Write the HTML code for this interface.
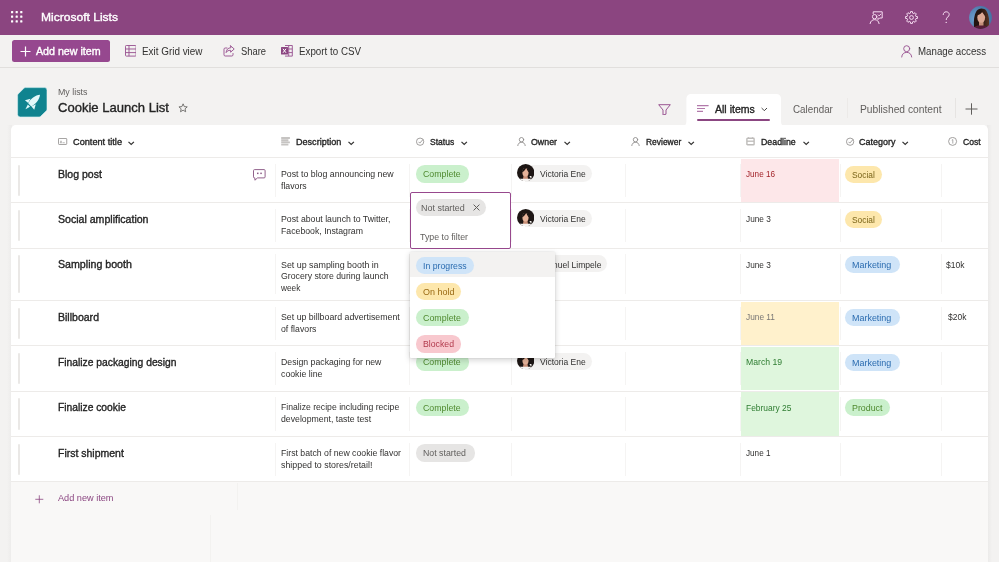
<!DOCTYPE html>
<html><head><meta charset="utf-8"><title>Microsoft Lists - Cookie Launch List</title>
<style>
html,body{margin:0;padding:0}
body{width:999px;height:562px;overflow:hidden;position:relative;background:#f3f2f1;font-family:'Liberation Sans', sans-serif;-webkit-font-smoothing:antialiased}
</style></head><body>
<div style="position:absolute;left:0px;top:0px;width:999px;height:562px;background:#f3f2f1;"></div>
<div style="position:absolute;left:0px;top:0px;width:999px;height:34.6px;background:#8b4580;"></div>
<div style="position:absolute;left:0px;top:67px;width:999px;height:1px;background:#e1dfdd;"></div>
<svg style="position:absolute;left:11.2px;top:11.2px;" width="12" height="12" viewBox="0 0 12 12"><rect x="0.0" y="0.0" width="2.2" height="2.2" rx="0.5" fill="#fff"/><rect x="0.0" y="4.6" width="2.2" height="2.2" rx="0.5" fill="#fff"/><rect x="0.0" y="9.2" width="2.2" height="2.2" rx="0.5" fill="#fff"/><rect x="4.6" y="0.0" width="2.2" height="2.2" rx="0.5" fill="#fff"/><rect x="4.6" y="4.6" width="2.2" height="2.2" rx="0.5" fill="#fff"/><rect x="4.6" y="9.2" width="2.2" height="2.2" rx="0.5" fill="#fff"/><rect x="9.2" y="0.0" width="2.2" height="2.2" rx="0.5" fill="#fff"/><rect x="9.2" y="4.6" width="2.2" height="2.2" rx="0.5" fill="#fff"/><rect x="9.2" y="9.2" width="2.2" height="2.2" rx="0.5" fill="#fff"/></svg>
<span style="position:absolute;left:40.5px;top:10.89px;font-size:11px;line-height:13.2px;font-weight:400;-webkit-text-stroke:0.35px;color:#ffffff;white-space:pre;transform-origin:0 50%;transform:scaleX(1.0954)">Microsoft Lists</span>
<svg style="position:absolute;left:869px;top:10.6px;" width="14" height="13" viewBox="0 0 14 13"><g fill="none" stroke="#f6dcf1" stroke-width="1" stroke-linecap="round" stroke-linejoin="round"><circle cx="5.600" cy="5.700" r="2.200"/><path d="M1.100 12.600c0.500-2.700 2.200-3.900 4.500-3.900s4 1.200 4.500 3.900"/><path d="M4.2 2.6V0.8h9v6.2h-2.6l-1.6 1.6V7"/><path d="M9.2 3.9l1 1 1.6-1.8"/></g></svg>
<svg style="position:absolute;left:904.5px;top:10.6px;" width="13" height="13" viewBox="0 0 13 13"><g fill="none" stroke="#f6dcf1" stroke-width="1" stroke-linejoin="round"><circle cx="6.5" cy="6.5" r="1.9"/><path d="M12.43 5.56L12.43 7.44L10.86 7.62L10.37 8.79L11.35 10.03L10.03 11.35L8.79 10.37L7.62 10.86L7.44 12.43L5.56 12.43L5.38 10.86L4.21 10.37L2.97 11.35L1.65 10.03L2.63 8.79L2.14 7.62L0.57 7.44L0.57 5.56L2.14 5.38L2.63 4.21L1.65 2.97L2.97 1.65L4.21 2.63L5.38 2.14L5.56 0.57L7.44 0.57L7.62 2.14L8.79 2.63L10.03 1.65L11.35 2.97L10.37 4.21L10.86 5.38z"/></g></svg>
<svg style="position:absolute;left:941.5px;top:10.8px;" width="9" height="13" viewBox="0 0 9 13"><path d="M1.2 3.6C1.2 1.9 2.5 0.8 4.2 0.8s3 1.1 3 2.7c0 2.4-3 2.5-3 5.1" fill="none" stroke="#f6dcf1" stroke-width="1" stroke-linecap="round"/><circle cx="4.2" cy="11.4" r="0.7" fill="#f6dcf1"/></svg>
<svg style="position:absolute;left:969px;top:6px;" width="23" height="23" viewBox="0 0 23 23"><defs><clipPath id="ua"><circle cx="11.5" cy="11.5" r="11.400"/></clipPath><radialGradient id="ub" cx="0.300" cy="0.550" r="0.800"><stop offset="0" stop-color="#6fa0cf"/><stop offset="1" stop-color="#3f6b9c"/></radialGradient><linearGradient id="uh" x1="0" x2="1"><stop offset="0.450" stop-color="#241511"/><stop offset="1" stop-color="#5b3524"/></linearGradient></defs><g clip-path="url(#ua)"><rect width="23" height="23" fill="url(#ub)"/><path d="M5 21c-0.500-6 0-12 2.500-16c2-3 7.500-3.500 10 0c2.500 4 3 10 2.500 16z" fill="url(#uh)"/><ellipse cx="12" cy="24.500" rx="8.500" ry="5.500" fill="#561c36"/><path d="M10 15h4.500v4.500h-4.500z" fill="#c48f7a"/><ellipse cx="12.200" cy="11.400" rx="3.900" ry="5.300" fill="#dba894"/><path d="M8 9.500c0.500-3.500 3-5 5.500-4.300c-1 2-3 3.600-5.500 4.300z" fill="#241511"/><path d="M13.300 5.200c2 0.300 3.200 2 3.200 5c-1.500-1.200-2.700-3-3.200-5z" fill="#3a2018"/></g></svg>
<div style="position:absolute;left:12px;top:40px;width:98px;height:22.4px;background:#96488f;border-radius:2.5px"></div>
<svg style="position:absolute;left:20px;top:45.5px;" width="11" height="11" viewBox="0 0 11 11"><path d="M5.5 0.5v10M0.500 5.500h10" stroke="#fff" stroke-width="1.200" fill="none"/></svg>
<span style="position:absolute;left:35.9px;top:45.64px;font-size:10px;line-height:12.0px;font-weight:400;-webkit-text-stroke:0.35px;color:#ffffff;white-space:pre;transform-origin:0 50%;transform:scaleX(1.0661)">Add new item</span>
<svg style="position:absolute;left:124.8px;top:45.3px;" width="11.6" height="11.6" viewBox="0 0 11.6 11.6"><g fill="none" stroke="#9a5592" stroke-width="0.95"><rect x="0.500" y="0.500" width="10.600" height="10.600" rx="0.800"/><path d="M0.500 4h10.600M0.500 7.600h10.600M4 0.500v10.600"/></g></svg>
<span style="position:absolute;left:142.1px;top:45.83px;font-size:10px;line-height:12.0px;font-weight:400;color:#323130;white-space:pre;transform-origin:0 50%;transform:scaleX(0.9881)">Exit Grid view</span>
<svg style="position:absolute;left:223px;top:45px;" width="12" height="12" viewBox="0 0 12 12"><g fill="none" stroke="#9a5592" stroke-width="0.95" stroke-linejoin="round" stroke-linecap="round"><path d="M4 3h-1.800a1.200 1.200 0 0 0-1.200 1.200v5.600a1.200 1.200 0 0 0 1.200 1.200h6.600a1.200 1.200 0 0 0 1.200-1.200v-1.300"/><path d="M7.600 0.800l3.600 3.200-3.600 3.200v-1.900c-2.300 0-3.600 0.700-4.500 2.300 0.300-3 1.800-4.700 4.500-4.900z"/></g></svg>
<span style="position:absolute;left:240.5px;top:45.83px;font-size:10px;line-height:12.0px;font-weight:400;color:#323130;white-space:pre;transform-origin:0 50%;transform:scaleX(0.9368)">Share</span>
<svg style="position:absolute;left:281px;top:45.3px;" width="12" height="11.6" viewBox="0 0 12 11.6"><g fill="none" stroke="#9a5592" stroke-width="0.95"><path d="M4 0.500h7.300v10.600h-7.300"/><path d="M7.700 0.500v10.600M5 4h6.300M5 7.600h6.300"/></g><rect x="0" y="2" width="7" height="7.600" rx="0.500" fill="#8b4681"/><path d="M2 3.800l3 4M5 3.800l-3 4" stroke="#fff" stroke-width="1"/></svg>
<span style="position:absolute;left:298.5px;top:45.83px;font-size:10px;line-height:12.0px;font-weight:400;color:#323130;white-space:pre;transform-origin:0 50%;transform:scaleX(0.9785)">Export to CSV</span>
<svg style="position:absolute;left:901px;top:45px;" width="12" height="12.5" viewBox="0 0 12 12.5"><g fill="none" stroke="#9a5592" stroke-width="0.95" stroke-linecap="round"><circle cx="5.700" cy="3.700" r="3"/><path d="M0.700 12c0.300-3.200 2.300-4.600 5-4.600s4.700 1.400 5 4.600"/></g></svg>
<span style="position:absolute;left:917.9px;top:45.73px;font-size:10px;line-height:12.0px;font-weight:400;color:#323130;white-space:pre;transform-origin:0 50%;transform:scaleX(0.9708)">Manage access</span>
<svg style="position:absolute;left:16.7px;top:87px;" width="30.6" height="30.6" viewBox="0 0 30 30"><path d="M8.200 0.600H27a2.400 2.400 0 0 1 2.400 2.400V21.800a2 2 0 0 1-0.600 1.400l-5.600 5.600a2 2 0 0 1-1.400 0.600H3a2.400 2.400 0 0 1-2.400-2.400V8.200a2 2 0 0 1 0.600-1.400l5.600-5.600a2 2 0 0 1 1.400-0.600z" fill="#10838f" stroke="#d6f1f3" stroke-width="0.600"/><g fill="#e2f8fa"><path d="M22.600 7.600C18 8 13 11.500 11 16l3 3c4.500-2 8-6.800 8.600-11.400z"/><path d="M13.200 11.600l-5.400 1.400 3.200 2.800zM18.400 16.800l-1.500 5.400-2.700-3.200z"/><path d="M10.600 17.200l-2.300 4.500 4.500-2.300z"/></g></svg>
<span style="position:absolute;left:58.0px;top:87.46px;font-size:8.6px;line-height:10.32px;font-weight:400;color:#605e5c;white-space:pre;transform-origin:0 50%;transform:scaleX(1.0294)">My lists</span>
<span style="position:absolute;left:58.0px;top:101.45px;font-size:12.2px;line-height:14.64px;font-weight:400;-webkit-text-stroke:0.35px;color:#242424;white-space:pre;transform-origin:0 50%;transform:scaleX(1.0707)">Cookie Launch List</span>
<svg style="position:absolute;left:178.3px;top:103.2px;" width="10.2" height="9.7" viewBox="0 0 11 10.5"><path d="M5.500 0.900l1.300 3 3.200 0.300-2.400 2.100 0.700 3.200-2.800-1.700-2.800 1.700 0.700-3.200-2.400-2.100 3.200-0.300z" fill="none" stroke="#605e5c" stroke-width="0.9" stroke-linejoin="round"/></svg>
<svg style="position:absolute;left:657.5px;top:103.5px;" width="13" height="11.5" viewBox="0 0 13 11.5"><path d="M0.700 0.700h11.600l-4.300 5.300v4.200l-3 0.800v-5z" fill="none" stroke="#9a5592" stroke-width="1" stroke-linejoin="round"/></svg>
<svg style="position:absolute;left:682px;top:94px" width="104" height="32" viewBox="0 0 104 32"><path d="M0 32c3 0 4.400-1.500 4.400-4.500V4.500A4.500 4.500 0 0 1 8.900 0H94.500a4.500 4.500 0 0 1 4.500 4.500V27.500c0 3 1.400 4.500 5 4.500z" fill="#fff"/></svg>
<svg style="position:absolute;left:697.4px;top:105px;" width="12" height="7" viewBox="0 0 12 7"><path d="M0 0.600h11.600M0 3.500h8M0 6.400h6" stroke="#b27aab" stroke-width="1.100" fill="none"/></svg>
<span style="position:absolute;left:714.7px;top:102.66px;font-size:10.5px;line-height:12.6px;font-weight:400;-webkit-text-stroke:0.35px;color:#242424;white-space:pre;transform-origin:0 50%;transform:scaleX(1.0028)">All items</span>
<svg style="position:absolute;left:761px;top:106.5px;" width="7" height="5" viewBox="0 0 7 5"><path d="M0.600 1l2.700 2.700 2.700-2.700" fill="none" stroke="#323130" stroke-width="0.9"/></svg>
<div style="position:absolute;left:697.4px;top:118.5px;width:73px;height:2.2px;background:#8b4681;border-radius:1px"></div>
<span style="position:absolute;left:793.3px;top:102.66px;font-size:10.5px;line-height:12.6px;font-weight:400;color:#605e5c;white-space:pre;transform-origin:0 50%;transform:scaleX(0.9361)">Calendar</span>
<div style="position:absolute;left:846.5px;top:98px;width:1px;height:20px;background:#eceae8;"></div>
<span style="position:absolute;left:860.2px;top:102.66px;font-size:10.5px;line-height:12.6px;font-weight:400;color:#605e5c;white-space:pre;transform-origin:0 50%;transform:scaleX(0.9774)">Published content</span>
<div style="position:absolute;left:955px;top:98px;width:1px;height:20px;background:#e6e4e2;"></div>
<svg style="position:absolute;left:965px;top:103px;" width="13" height="12" viewBox="0 0 13 12"><path d="M6.500 0.300v11.400M0.500 6h12" stroke="#605e5c" stroke-width="1" fill="none"/></svg>
<div style="position:absolute;left:987px;top:125px;width:5px;height:437px;background:linear-gradient(90deg,#eae9e8,#f3f2f1);"></div>
<div style="position:absolute;left:6.5px;top:125px;width:5px;height:437px;background:linear-gradient(270deg,#ecebea,#f3f2f1);"></div>
<div style="position:absolute;left:11px;top:125px;width:976.5px;height:440px;background:#ffffff;border-radius:5px 5px 0 0"></div>
<div style="position:absolute;left:11px;top:482px;width:976.5px;height:80px;background:#f9f8f7;"></div>
<div style="position:absolute;left:741px;top:158.5px;width:98.3px;height:43.4px;background:#fde7e9;"></div>
<div style="position:absolute;left:741px;top:301.5px;width:98.3px;height:43.4px;background:#fff1cc;"></div>
<div style="position:absolute;left:741px;top:346.5px;width:98.3px;height:43.9px;background:#dff6dd;"></div>
<div style="position:absolute;left:741px;top:392px;width:98.3px;height:43.9px;background:#dff6dd;"></div>
<div style="position:absolute;left:11px;top:157.0px;width:976.5px;height:1.3px;background:#edebe9;"></div>
<div style="position:absolute;left:11px;top:202.0px;width:976.5px;height:1.3px;background:#edebe9;"></div>
<div style="position:absolute;left:11px;top:247.8px;width:976.5px;height:1.3px;background:#edebe9;"></div>
<div style="position:absolute;left:11px;top:300.0px;width:976.5px;height:1.3px;background:#edebe9;"></div>
<div style="position:absolute;left:11px;top:345.0px;width:976.5px;height:1.3px;background:#edebe9;"></div>
<div style="position:absolute;left:11px;top:390.5px;width:976.5px;height:1.3px;background:#edebe9;"></div>
<div style="position:absolute;left:11px;top:436.0px;width:976.5px;height:1.3px;background:#edebe9;"></div>
<div style="position:absolute;left:11px;top:481.2px;width:976.5px;height:1.3px;background:#edebe9;"></div>
<div style="position:absolute;left:275.4px;top:163.5px;width:1px;height:33.0px;background:#f5f4f3;"></div>
<div style="position:absolute;left:409.2px;top:163.5px;width:1px;height:33.0px;background:#f5f4f3;"></div>
<div style="position:absolute;left:511px;top:163.5px;width:1px;height:33.0px;background:#f5f4f3;"></div>
<div style="position:absolute;left:625.3px;top:163.5px;width:1px;height:33.0px;background:#f5f4f3;"></div>
<div style="position:absolute;left:739.8px;top:163.5px;width:1px;height:33.0px;background:#f5f4f3;"></div>
<div style="position:absolute;left:839.5px;top:163.5px;width:1px;height:33.0px;background:#f5f4f3;"></div>
<div style="position:absolute;left:940.5px;top:163.5px;width:1px;height:33.0px;background:#f5f4f3;"></div>
<div style="position:absolute;left:17.5px;top:164.5px;width:2.2px;height:31.0px;background:#eae8e6;border-radius:1px"></div>
<div style="position:absolute;left:275.4px;top:208.5px;width:1px;height:33.80000000000001px;background:#f5f4f3;"></div>
<div style="position:absolute;left:409.2px;top:208.5px;width:1px;height:33.80000000000001px;background:#f5f4f3;"></div>
<div style="position:absolute;left:511px;top:208.5px;width:1px;height:33.80000000000001px;background:#f5f4f3;"></div>
<div style="position:absolute;left:625.3px;top:208.5px;width:1px;height:33.80000000000001px;background:#f5f4f3;"></div>
<div style="position:absolute;left:739.8px;top:208.5px;width:1px;height:33.80000000000001px;background:#f5f4f3;"></div>
<div style="position:absolute;left:839.5px;top:208.5px;width:1px;height:33.80000000000001px;background:#f5f4f3;"></div>
<div style="position:absolute;left:940.5px;top:208.5px;width:1px;height:33.80000000000001px;background:#f5f4f3;"></div>
<div style="position:absolute;left:17.5px;top:209.5px;width:2.2px;height:31.80000000000001px;background:#eae8e6;border-radius:1px"></div>
<div style="position:absolute;left:275.4px;top:254.3px;width:1px;height:40.19999999999999px;background:#f5f4f3;"></div>
<div style="position:absolute;left:409.2px;top:254.3px;width:1px;height:40.19999999999999px;background:#f5f4f3;"></div>
<div style="position:absolute;left:511px;top:254.3px;width:1px;height:40.19999999999999px;background:#f5f4f3;"></div>
<div style="position:absolute;left:625.3px;top:254.3px;width:1px;height:40.19999999999999px;background:#f5f4f3;"></div>
<div style="position:absolute;left:739.8px;top:254.3px;width:1px;height:40.19999999999999px;background:#f5f4f3;"></div>
<div style="position:absolute;left:839.5px;top:254.3px;width:1px;height:40.19999999999999px;background:#f5f4f3;"></div>
<div style="position:absolute;left:940.5px;top:254.3px;width:1px;height:40.19999999999999px;background:#f5f4f3;"></div>
<div style="position:absolute;left:17.5px;top:255.3px;width:2.2px;height:38.19999999999999px;background:#eae8e6;border-radius:1px"></div>
<div style="position:absolute;left:275.4px;top:306.5px;width:1px;height:33.0px;background:#f5f4f3;"></div>
<div style="position:absolute;left:409.2px;top:306.5px;width:1px;height:33.0px;background:#f5f4f3;"></div>
<div style="position:absolute;left:511px;top:306.5px;width:1px;height:33.0px;background:#f5f4f3;"></div>
<div style="position:absolute;left:625.3px;top:306.5px;width:1px;height:33.0px;background:#f5f4f3;"></div>
<div style="position:absolute;left:739.8px;top:306.5px;width:1px;height:33.0px;background:#f5f4f3;"></div>
<div style="position:absolute;left:839.5px;top:306.5px;width:1px;height:33.0px;background:#f5f4f3;"></div>
<div style="position:absolute;left:940.5px;top:306.5px;width:1px;height:33.0px;background:#f5f4f3;"></div>
<div style="position:absolute;left:17.5px;top:307.5px;width:2.2px;height:31.0px;background:#eae8e6;border-radius:1px"></div>
<div style="position:absolute;left:275.4px;top:351.5px;width:1px;height:33.5px;background:#f5f4f3;"></div>
<div style="position:absolute;left:409.2px;top:351.5px;width:1px;height:33.5px;background:#f5f4f3;"></div>
<div style="position:absolute;left:511px;top:351.5px;width:1px;height:33.5px;background:#f5f4f3;"></div>
<div style="position:absolute;left:625.3px;top:351.5px;width:1px;height:33.5px;background:#f5f4f3;"></div>
<div style="position:absolute;left:739.8px;top:351.5px;width:1px;height:33.5px;background:#f5f4f3;"></div>
<div style="position:absolute;left:839.5px;top:351.5px;width:1px;height:33.5px;background:#f5f4f3;"></div>
<div style="position:absolute;left:940.5px;top:351.5px;width:1px;height:33.5px;background:#f5f4f3;"></div>
<div style="position:absolute;left:17.5px;top:352.5px;width:2.2px;height:31.5px;background:#eae8e6;border-radius:1px"></div>
<div style="position:absolute;left:275.4px;top:397px;width:1px;height:33.5px;background:#f5f4f3;"></div>
<div style="position:absolute;left:409.2px;top:397px;width:1px;height:33.5px;background:#f5f4f3;"></div>
<div style="position:absolute;left:511px;top:397px;width:1px;height:33.5px;background:#f5f4f3;"></div>
<div style="position:absolute;left:625.3px;top:397px;width:1px;height:33.5px;background:#f5f4f3;"></div>
<div style="position:absolute;left:739.8px;top:397px;width:1px;height:33.5px;background:#f5f4f3;"></div>
<div style="position:absolute;left:839.5px;top:397px;width:1px;height:33.5px;background:#f5f4f3;"></div>
<div style="position:absolute;left:940.5px;top:397px;width:1px;height:33.5px;background:#f5f4f3;"></div>
<div style="position:absolute;left:17.5px;top:398px;width:2.2px;height:31.5px;background:#eae8e6;border-radius:1px"></div>
<div style="position:absolute;left:275.4px;top:442.5px;width:1px;height:33.19999999999999px;background:#f5f4f3;"></div>
<div style="position:absolute;left:409.2px;top:442.5px;width:1px;height:33.19999999999999px;background:#f5f4f3;"></div>
<div style="position:absolute;left:511px;top:442.5px;width:1px;height:33.19999999999999px;background:#f5f4f3;"></div>
<div style="position:absolute;left:625.3px;top:442.5px;width:1px;height:33.19999999999999px;background:#f5f4f3;"></div>
<div style="position:absolute;left:739.8px;top:442.5px;width:1px;height:33.19999999999999px;background:#f5f4f3;"></div>
<div style="position:absolute;left:839.5px;top:442.5px;width:1px;height:33.19999999999999px;background:#f5f4f3;"></div>
<div style="position:absolute;left:940.5px;top:442.5px;width:1px;height:33.19999999999999px;background:#f5f4f3;"></div>
<div style="position:absolute;left:17.5px;top:443.5px;width:2.2px;height:31.19999999999999px;background:#eae8e6;border-radius:1px"></div>
<svg style="position:absolute;left:58px;top:138px;" width="9.5" height="7.2" viewBox="0 0 9.5 7.2"><rect x="0.450" y="0.450" width="8.300" height="6" rx="0.700" fill="none" stroke="#8a8886" stroke-width="0.800"/><path d="M2 4.700h1.800M4.600 4.700h2.200M2.300 4.500l0.700-1.700 0.700 1.700" stroke="#8a8886" stroke-width="0.550" fill="none"/></svg>
<span style="position:absolute;left:72.5px;top:135.81px;font-size:9.5px;line-height:11.4px;font-weight:400;-webkit-text-stroke:0.35px;color:#242424;white-space:pre;transform-origin:0 50%;transform:scaleX(0.9664)">Content title</span>
<svg style="position:absolute;left:127.5px;top:140.8px;" width="7" height="5" viewBox="0 0 7 5"><path d="M0.500 0.800l2.700 2.700 2.700-2.700" fill="none" stroke="#323130" stroke-width="1.200"/></svg>
<svg style="position:absolute;left:281px;top:137.2px;" width="9.5" height="9" viewBox="0 0 9.5 9"><path d="M0.200 1h8.700M0.200 3.200h7.200M0.200 5.400h8.700M0.200 7.600h7.200" stroke="#c6c4c2" stroke-width="1.900" fill="none"/></svg>
<span style="position:absolute;left:295.5px;top:135.81px;font-size:9.5px;line-height:11.4px;font-weight:400;-webkit-text-stroke:0.35px;color:#242424;white-space:pre;transform-origin:0 50%;transform:scaleX(0.9531)">Description</span>
<svg style="position:absolute;left:348px;top:140.8px;" width="7" height="5" viewBox="0 0 7 5"><path d="M0.500 0.800l2.700 2.700 2.700-2.700" fill="none" stroke="#323130" stroke-width="1.200"/></svg>
<svg style="position:absolute;left:416px;top:136.8px;" width="10" height="9.5" viewBox="0 0 10 9.5"><g fill="none" stroke="#8a8886" stroke-width="0.800"><circle cx="4.100" cy="4.700" r="3.650"/><path d="M2.500 4.800l1.300 1.300 3.200-3.600"/></g></svg>
<span style="position:absolute;left:430.1px;top:135.81px;font-size:9.5px;line-height:11.4px;font-weight:400;-webkit-text-stroke:0.35px;color:#242424;white-space:pre;transform-origin:0 50%;transform:scaleX(0.8984)">Status</span>
<svg style="position:absolute;left:461px;top:140.8px;" width="7" height="5" viewBox="0 0 7 5"><path d="M0.500 0.800l2.700 2.700 2.700-2.700" fill="none" stroke="#323130" stroke-width="1.200"/></svg>
<svg style="position:absolute;left:516.5px;top:137px;" width="9.5" height="10" viewBox="0 0 9.5 10"><g fill="none" stroke="#8a8886" stroke-width="0.850" stroke-linecap="round"><circle cx="4.500" cy="2.700" r="2.200"/><path d="M0.800 8.600c0.300-2.300 1.700-3.300 3.700-3.300s3.400 1 3.700 3.300"/></g></svg>
<span style="position:absolute;left:531.3px;top:135.81px;font-size:9.5px;line-height:11.4px;font-weight:400;-webkit-text-stroke:0.35px;color:#242424;white-space:pre;transform-origin:0 50%;transform:scaleX(0.9291)">Owner</span>
<svg style="position:absolute;left:563.8px;top:140.8px;" width="7" height="5" viewBox="0 0 7 5"><path d="M0.500 0.800l2.700 2.700 2.700-2.700" fill="none" stroke="#323130" stroke-width="1.200"/></svg>
<svg style="position:absolute;left:631.3px;top:137px;" width="9.5" height="10" viewBox="0 0 9.5 10"><g fill="none" stroke="#8a8886" stroke-width="0.850" stroke-linecap="round"><circle cx="4.500" cy="2.700" r="2.200"/><path d="M0.800 8.600c0.300-2.300 1.700-3.300 3.700-3.300s3.400 1 3.700 3.300"/></g></svg>
<span style="position:absolute;left:646.1px;top:135.81px;font-size:9.5px;line-height:11.4px;font-weight:400;-webkit-text-stroke:0.35px;color:#242424;white-space:pre;transform-origin:0 50%;transform:scaleX(0.8887)">Reviewer</span>
<svg style="position:absolute;left:688px;top:140.8px;" width="7" height="5" viewBox="0 0 7 5"><path d="M0.500 0.800l2.700 2.700 2.700-2.700" fill="none" stroke="#323130" stroke-width="1.200"/></svg>
<svg style="position:absolute;left:746px;top:137.2px;" width="9.5" height="9" viewBox="0 0 9.5 9"><g fill="none" stroke="#bebcba"><rect x="0.900" y="1.300" width="7.200" height="6.500" rx="0.600" stroke-width="1.400"/><path d="M0.900 4.200h7.200" stroke-width="1.300"/><path d="M2.500 0.200v1.600M6.500 0.200v1.600" stroke-width="1.200"/></g></svg>
<span style="position:absolute;left:761.1px;top:135.81px;font-size:9.5px;line-height:11.4px;font-weight:400;-webkit-text-stroke:0.35px;color:#242424;white-space:pre;transform-origin:0 50%;transform:scaleX(0.9253)">Deadline</span>
<svg style="position:absolute;left:802.8px;top:140.8px;" width="7" height="5" viewBox="0 0 7 5"><path d="M0.500 0.800l2.700 2.700 2.700-2.700" fill="none" stroke="#323130" stroke-width="1.200"/></svg>
<svg style="position:absolute;left:845.5px;top:136.8px;" width="10" height="9.5" viewBox="0 0 10 9.5"><g fill="none" stroke="#8a8886" stroke-width="0.800"><circle cx="4.100" cy="4.700" r="3.650"/><path d="M2.500 4.800l1.300 1.300 3.200-3.600"/></g></svg>
<span style="position:absolute;left:859.1px;top:135.81px;font-size:9.5px;line-height:11.4px;font-weight:400;-webkit-text-stroke:0.35px;color:#242424;white-space:pre;transform-origin:0 50%;transform:scaleX(0.9439)">Category</span>
<svg style="position:absolute;left:902.3px;top:140.8px;" width="7" height="5" viewBox="0 0 7 5"><path d="M0.500 0.800l2.700 2.700 2.700-2.700" fill="none" stroke="#323130" stroke-width="1.200"/></svg>
<svg style="position:absolute;left:948px;top:137.1px;" width="9.5" height="9.5" viewBox="0 0 9.5 9.5"><circle cx="4.600" cy="4.400" r="4" fill="none" stroke="#8a8886" stroke-width="0.800"/><path d="M3.800 3.200l1-0.600v4" fill="none" stroke="#8a8886" stroke-width="0.700"/></svg>
<span style="position:absolute;left:962.5px;top:135.81px;font-size:9.5px;line-height:11.4px;font-weight:400;-webkit-text-stroke:0.35px;color:#242424;white-space:pre;transform-origin:0 50%;transform:scaleX(0.9055)">Cost</span>
<span style="position:absolute;left:58.0px;top:167.67px;font-size:10.6px;line-height:12.72px;font-weight:400;-webkit-text-stroke:0.35px;color:#242424;white-space:pre;transform-origin:0 50%;transform:scaleX(0.9916)">Blog post</span>
<span style="position:absolute;left:58.0px;top:212.67px;font-size:10.6px;line-height:12.72px;font-weight:400;-webkit-text-stroke:0.35px;color:#242424;white-space:pre;transform-origin:0 50%;transform:scaleX(0.9979)">Social amplification</span>
<span style="position:absolute;left:58.0px;top:258.47px;font-size:10.6px;line-height:12.72px;font-weight:400;-webkit-text-stroke:0.35px;color:#242424;white-space:pre;transform-origin:0 50%;transform:scaleX(1.0037)">Sampling booth</span>
<span style="position:absolute;left:58.0px;top:310.67px;font-size:10.6px;line-height:12.72px;font-weight:400;-webkit-text-stroke:0.35px;color:#242424;white-space:pre;transform-origin:0 50%;transform:scaleX(0.9943)">Billboard</span>
<span style="position:absolute;left:58.0px;top:355.67px;font-size:10.6px;line-height:12.72px;font-weight:400;-webkit-text-stroke:0.35px;color:#242424;white-space:pre;transform-origin:0 50%;transform:scaleX(0.9721)">Finalize packaging design</span>
<span style="position:absolute;left:58.0px;top:401.17px;font-size:10.6px;line-height:12.72px;font-weight:400;-webkit-text-stroke:0.35px;color:#242424;white-space:pre;transform-origin:0 50%;transform:scaleX(0.9689)">Finalize cookie</span>
<span style="position:absolute;left:58.0px;top:446.67px;font-size:10.6px;line-height:12.72px;font-weight:400;-webkit-text-stroke:0.35px;color:#242424;white-space:pre;transform-origin:0 50%;transform:scaleX(0.9890)">First shipment</span>
<svg style="position:absolute;left:253px;top:169px;" width="13" height="12" viewBox="0 0 13 12"><path d="M1.500 0.600h9.600a1 1 0 0 1 1 1v6.300a1 1 0 0 1-1 1h-6.600l-2.600 2.300v-2.300h-0.400a1 1 0 0 1-1-1v-6.300a1 1 0 0 1 1-1z" fill="none" stroke="#8c5a86" stroke-width="0.950"/><rect x="4" y="3.600" width="1.500" height="1.500" fill="#8c5a86"/><rect x="7.300" y="3.600" width="1.500" height="1.500" fill="#8c5a86"/></svg>
<span style="position:absolute;left:281.1px;top:168.98px;font-size:9px;line-height:10.8px;font-weight:400;color:#323130;white-space:pre;transform-origin:0 50%;transform:scaleX(0.9750)">Post to blog announcing new</span>
<span style="position:absolute;left:281.1px;top:180.58px;font-size:9px;line-height:10.8px;font-weight:400;color:#323130;white-space:pre;transform-origin:0 50%;transform:scaleX(0.9695)">flavors</span>
<span style="position:absolute;left:281.1px;top:213.98px;font-size:9px;line-height:10.8px;font-weight:400;color:#323130;white-space:pre;transform-origin:0 50%;transform:scaleX(0.9695)">Post about launch to Twitter,</span>
<span style="position:absolute;left:281.1px;top:225.58px;font-size:9px;line-height:10.8px;font-weight:400;color:#323130;white-space:pre;transform-origin:0 50%;transform:scaleX(0.9695)">Facebook, Instagram</span>
<span style="position:absolute;left:281.1px;top:259.78px;font-size:9px;line-height:10.8px;font-weight:400;color:#323130;white-space:pre;transform-origin:0 50%;transform:scaleX(0.9861)">Set up sampling booth in</span>
<span style="position:absolute;left:281.1px;top:271.38px;font-size:9px;line-height:10.8px;font-weight:400;color:#323130;white-space:pre;transform-origin:0 50%;transform:scaleX(0.9688)">Grocery store during launch</span>
<span style="position:absolute;left:281.1px;top:282.98px;font-size:9px;line-height:10.8px;font-weight:400;color:#323130;white-space:pre;transform-origin:0 50%;transform:scaleX(0.9231)">week</span>
<span style="position:absolute;left:281.1px;top:311.98px;font-size:9px;line-height:10.8px;font-weight:400;color:#323130;white-space:pre;transform-origin:0 50%;transform:scaleX(0.9771)">Set up billboard advertisement</span>
<span style="position:absolute;left:281.1px;top:323.58px;font-size:9px;line-height:10.8px;font-weight:400;color:#323130;white-space:pre;transform-origin:0 50%;transform:scaleX(0.9694)">of flavors</span>
<span style="position:absolute;left:281.1px;top:356.98px;font-size:9px;line-height:10.8px;font-weight:400;color:#323130;white-space:pre;transform-origin:0 50%;transform:scaleX(0.9695)">Design packaging for new</span>
<span style="position:absolute;left:281.1px;top:368.58px;font-size:9px;line-height:10.8px;font-weight:400;color:#323130;white-space:pre;transform-origin:0 50%;transform:scaleX(0.9734)">cookie line</span>
<span style="position:absolute;left:281.1px;top:402.48px;font-size:9px;line-height:10.8px;font-weight:400;color:#323130;white-space:pre;transform-origin:0 50%;transform:scaleX(0.9604)">Finalize recipe including recipe</span>
<span style="position:absolute;left:281.1px;top:414.08px;font-size:9px;line-height:10.8px;font-weight:400;color:#323130;white-space:pre;transform-origin:0 50%;transform:scaleX(0.9682)">development, taste test</span>
<span style="position:absolute;left:281.1px;top:447.98px;font-size:9px;line-height:10.8px;font-weight:400;color:#323130;white-space:pre;transform-origin:0 50%;transform:scaleX(0.9673)">First batch of new cookie flavor</span>
<span style="position:absolute;left:281.1px;top:459.58px;font-size:9px;line-height:10.8px;font-weight:400;color:#323130;white-space:pre;transform-origin:0 50%;transform:scaleX(0.9821)">shipped to stores/retail!</span>
<div style="position:absolute;left:416px;top:165.4px;width:52.7px;height:17.4px;background:#caf0cc;border-radius:8.7px"></div>
<span style="position:absolute;left:422.9px;top:169.48px;font-size:9px;line-height:10.8px;font-weight:400;color:#4f8a2f;white-space:pre;transform-origin:0 50%;transform:scaleX(0.9758)">Complete</span>
<div style="position:absolute;left:416px;top:353.4px;width:52.7px;height:17.4px;background:#caf0cc;border-radius:8.7px"></div>
<span style="position:absolute;left:422.9px;top:357.48px;font-size:9px;line-height:10.8px;font-weight:400;color:#4f8a2f;white-space:pre;transform-origin:0 50%;transform:scaleX(0.9758)">Complete</span>
<div style="position:absolute;left:416px;top:398.9px;width:52.7px;height:17.4px;background:#caf0cc;border-radius:8.7px"></div>
<span style="position:absolute;left:422.9px;top:402.98px;font-size:9px;line-height:10.8px;font-weight:400;color:#4f8a2f;white-space:pre;transform-origin:0 50%;transform:scaleX(0.9758)">Complete</span>
<div style="position:absolute;left:416px;top:444.4px;width:59px;height:17.4px;background:#e6e5e4;border-radius:8.7px"></div>
<span style="position:absolute;left:423.3px;top:448.48px;font-size:9px;line-height:10.8px;font-weight:400;color:#605e5c;white-space:pre;transform-origin:0 50%;transform:scaleX(0.9743)">Not started</span>
<div style="position:absolute;left:525px;top:164.5px;width:66.5px;height:17.2px;background:#f3f2f1;border-radius:0 8.600px 8.600px 0"></div>
<svg style="position:absolute;left:517.0px;top:163.6px;" width="17.4" height="17.4" viewBox="0 0 17.4 17.4"><defs><clipPath id="c172"><circle cx="8.700" cy="8.700" r="8.700"/></clipPath></defs><g clip-path="url(#c172)"><rect width="17.400" height="17.400" fill="#1d1614"/><path d="M6.600 11h3.800l0.600 4h-5z" fill="#c98f76"/><ellipse cx="8.500" cy="8.300" rx="3.100" ry="4.300" fill="#e6b39a"/><path d="M5 8.500c0-3.500 2-5 4.300-4.800c-0.600 1.600-2.300 3.300-4.300 4.800z" fill="#1d1614"/><path d="M9.300 3.700c1.800 0.200 2.900 1.800 2.700 4.800c-1-1-2.200-2.800-2.700-4.800z" fill="#1d1614"/><path d="M0 14.700h17.400v3h-17.400z" fill="#f6f4f2"/><path d="M12.500 12.300c1.300-0.600 2.300 0 2.400 1.200l-1.600 0.300z" fill="#f6f4f2"/></g></svg>
<span style="position:absolute;left:539.5px;top:169.28px;font-size:9px;line-height:10.8px;font-weight:400;color:#323130;white-space:pre;transform-origin:0 50%;transform:scaleX(0.9447)">Victoria Ene</span>
<div style="position:absolute;left:525px;top:209.5px;width:66.5px;height:17.2px;background:#f3f2f1;border-radius:0 8.600px 8.600px 0"></div>
<svg style="position:absolute;left:517.0px;top:208.6px;" width="17.4" height="17.4" viewBox="0 0 17.4 17.4"><defs><clipPath id="c217"><circle cx="8.700" cy="8.700" r="8.700"/></clipPath></defs><g clip-path="url(#c217)"><rect width="17.400" height="17.400" fill="#1d1614"/><path d="M6.600 11h3.800l0.600 4h-5z" fill="#c98f76"/><ellipse cx="8.500" cy="8.300" rx="3.100" ry="4.300" fill="#e6b39a"/><path d="M5 8.500c0-3.500 2-5 4.300-4.800c-0.600 1.600-2.300 3.300-4.300 4.800z" fill="#1d1614"/><path d="M9.300 3.700c1.800 0.200 2.900 1.800 2.700 4.800c-1-1-2.200-2.800-2.700-4.800z" fill="#1d1614"/><path d="M0 14.700h17.400v3h-17.400z" fill="#f6f4f2"/><path d="M12.500 12.300c1.300-0.600 2.300 0 2.400 1.200l-1.600 0.300z" fill="#f6f4f2"/></g></svg>
<span style="position:absolute;left:539.5px;top:214.28px;font-size:9px;line-height:10.8px;font-weight:400;color:#323130;white-space:pre;transform-origin:0 50%;transform:scaleX(0.9447)">Victoria Ene</span>
<div style="position:absolute;left:525px;top:255.3px;width:82.3px;height:17.2px;background:#f3f2f1;border-radius:0 8.600px 8.600px 0"></div>
<svg style="position:absolute;left:517.0px;top:254.4px;" width="17.4" height="17.4" viewBox="0 0 17.4 17.4"><defs><clipPath id="c263"><circle cx="8.700" cy="8.700" r="8.700"/></clipPath></defs><g clip-path="url(#c263)"><rect width="17.400" height="17.400" fill="#1d1614"/><path d="M6.600 11h3.800l0.600 4h-5z" fill="#c98f76"/><ellipse cx="8.500" cy="8.300" rx="3.100" ry="4.300" fill="#e6b39a"/><path d="M5 8.500c0-3.500 2-5 4.300-4.800c-0.600 1.600-2.300 3.300-4.300 4.800z" fill="#1d1614"/><path d="M9.300 3.700c1.800 0.200 2.900 1.800 2.700 4.800c-1-1-2.200-2.800-2.700-4.800z" fill="#1d1614"/><path d="M0 14.700h17.400v3h-17.400z" fill="#f6f4f2"/><path d="M12.500 12.300c1.300-0.600 2.300 0 2.400 1.200l-1.600 0.300z" fill="#f6f4f2"/></g></svg>
<span style="position:absolute;left:539.5px;top:260.08px;font-size:9px;line-height:10.8px;font-weight:400;color:#323130;white-space:pre;transform-origin:0 50%;transform:scaleX(0.9528)">Samuel Limpele</span>
<div style="position:absolute;left:525px;top:352.5px;width:66.5px;height:17.2px;background:#f3f2f1;border-radius:0 8.600px 8.600px 0"></div>
<svg style="position:absolute;left:517.0px;top:351.6px;" width="17.4" height="17.4" viewBox="0 0 17.4 17.4"><defs><clipPath id="c360"><circle cx="8.700" cy="8.700" r="8.700"/></clipPath></defs><g clip-path="url(#c360)"><rect width="17.400" height="17.400" fill="#1d1614"/><path d="M6.600 11h3.800l0.600 4h-5z" fill="#c98f76"/><ellipse cx="8.500" cy="8.300" rx="3.100" ry="4.300" fill="#e6b39a"/><path d="M5 8.500c0-3.500 2-5 4.300-4.800c-0.600 1.600-2.300 3.300-4.300 4.800z" fill="#1d1614"/><path d="M9.300 3.700c1.800 0.200 2.900 1.800 2.700 4.800c-1-1-2.200-2.800-2.700-4.800z" fill="#1d1614"/><path d="M0 14.700h17.400v3h-17.400z" fill="#f6f4f2"/><path d="M12.500 12.300c1.300-0.600 2.300 0 2.400 1.200l-1.600 0.300z" fill="#f6f4f2"/></g></svg>
<span style="position:absolute;left:539.5px;top:357.28px;font-size:9px;line-height:10.8px;font-weight:400;color:#323130;white-space:pre;transform-origin:0 50%;transform:scaleX(0.9447)">Victoria Ene</span>
<span style="position:absolute;left:746.0px;top:169.18px;font-size:9px;line-height:10.8px;font-weight:400;color:#a4262c;white-space:pre;transform-origin:0 50%;transform:scaleX(0.9054)">June 16</span>
<span style="position:absolute;left:746.0px;top:214.18px;font-size:9px;line-height:10.8px;font-weight:400;color:#323130;white-space:pre;transform-origin:0 50%;transform:scaleX(0.9175)">June 3</span>
<span style="position:absolute;left:746.0px;top:259.98px;font-size:9px;line-height:10.8px;font-weight:400;color:#323130;white-space:pre;transform-origin:0 50%;transform:scaleX(0.9175)">June 3</span>
<span style="position:absolute;left:746.0px;top:312.18px;font-size:9px;line-height:10.8px;font-weight:400;color:#797775;white-space:pre;transform-origin:0 50%;transform:scaleX(0.9248)">June 11</span>
<span style="position:absolute;left:746.0px;top:357.18px;font-size:9px;line-height:10.8px;font-weight:400;color:#2f7d32;white-space:pre;transform-origin:0 50%;transform:scaleX(0.9645)">March 19</span>
<span style="position:absolute;left:746.0px;top:402.68px;font-size:9px;line-height:10.8px;font-weight:400;color:#2f7d32;white-space:pre;transform-origin:0 50%;transform:scaleX(0.9375)">February 25</span>
<span style="position:absolute;left:746.0px;top:448.18px;font-size:9px;line-height:10.8px;font-weight:400;color:#323130;white-space:pre;transform-origin:0 50%;transform:scaleX(0.9064)">June 1</span>
<div style="position:absolute;left:845.3px;top:165.5px;width:37.0px;height:17px;background:#fde7ac;border-radius:8.5px"></div>
<span style="position:absolute;left:851.9px;top:169.58px;font-size:9px;line-height:10.8px;font-weight:400;color:#7a6418;white-space:pre;transform-origin:0 50%;transform:scaleX(0.9300)">Social</span>
<div style="position:absolute;left:845.3px;top:210.5px;width:37.0px;height:17px;background:#fde7ac;border-radius:8.5px"></div>
<span style="position:absolute;left:851.9px;top:214.58px;font-size:9px;line-height:10.8px;font-weight:400;color:#7a6418;white-space:pre;transform-origin:0 50%;transform:scaleX(0.9300)">Social</span>
<div style="position:absolute;left:845.3px;top:256.3px;width:54.7px;height:17px;background:#cfe4f8;border-radius:8.5px"></div>
<span style="position:absolute;left:851.9px;top:260.38px;font-size:9px;line-height:10.8px;font-weight:400;color:#2b6cb0;white-space:pre;transform-origin:0 50%;transform:scaleX(0.9945)">Marketing</span>
<div style="position:absolute;left:845.3px;top:308.5px;width:54.7px;height:17px;background:#cfe4f8;border-radius:8.5px"></div>
<span style="position:absolute;left:851.9px;top:312.58px;font-size:9px;line-height:10.8px;font-weight:400;color:#2b6cb0;white-space:pre;transform-origin:0 50%;transform:scaleX(0.9945)">Marketing</span>
<div style="position:absolute;left:845.3px;top:353.5px;width:54.7px;height:17px;background:#cfe4f8;border-radius:8.5px"></div>
<span style="position:absolute;left:851.9px;top:357.58px;font-size:9px;line-height:10.8px;font-weight:400;color:#2b6cb0;white-space:pre;transform-origin:0 50%;transform:scaleX(0.9945)">Marketing</span>
<div style="position:absolute;left:845.3px;top:399px;width:45.0px;height:17px;background:#caf0cc;border-radius:8.5px"></div>
<span style="position:absolute;left:851.9px;top:403.08px;font-size:9px;line-height:10.8px;font-weight:400;color:#4f8a2f;white-space:pre;transform-origin:0 50%;transform:scaleX(0.9829)">Product</span>
<span style="position:absolute;left:945.8px;top:259.98px;font-size:9px;line-height:10.8px;font-weight:400;color:#323130;white-space:pre;transform-origin:0 50%;transform:scaleX(0.9472)">$10k</span>
<span style="position:absolute;left:948.1px;top:312.18px;font-size:9px;line-height:10.8px;font-weight:400;color:#323130;white-space:pre;transform-origin:0 50%;transform:scaleX(0.9421)">$20k</span>
<svg style="position:absolute;left:34.5px;top:494.5px;" width="9" height="9" viewBox="0 0 9 9"><path d="M4.300 0.300v8M0.300 4.300h8" stroke="#8b4681" stroke-width="0.800" fill="none"/></svg>
<span style="position:absolute;left:58.0px;top:492.88px;font-size:9px;line-height:10.8px;font-weight:400;color:#8b4681;white-space:pre;transform-origin:0 50%;transform:scaleX(1.0178)">Add new item</span>
<div style="position:absolute;left:236.5px;top:483px;width:1px;height:27px;background:#f3f2f0;"></div>
<div style="position:absolute;left:210px;top:515px;width:1px;height:47px;background:#f3f2f0;"></div>
<div style="position:absolute;left:410px;top:192px;width:100.6px;height:57.3px;background:#fff;box-sizing:border-box;border:1.500px solid #97488d;border-radius:2px"></div>
<div style="position:absolute;left:416px;top:199px;width:70.4px;height:17px;background:#e6e5e4;border-radius:8.500px"></div>
<span style="position:absolute;left:421.1px;top:202.88px;font-size:9px;line-height:10.8px;font-weight:400;color:#605e5c;white-space:pre;transform-origin:0 50%;transform:scaleX(0.9947)">Not started</span>
<svg style="position:absolute;left:473px;top:204.2px;" width="7" height="7" viewBox="0 0 7 7"><path d="M0.600 0.600l5.800 5.800M6.400 0.600l-5.800 5.800" stroke="#605e5c" stroke-width="1" fill="none"/></svg>
<span style="position:absolute;left:420.1px;top:231.68px;font-size:9px;line-height:10.8px;font-weight:400;color:#605e5c;white-space:pre;transform-origin:0 50%;transform:scaleX(0.9790)">Type to filter</span>
<div style="position:absolute;left:409.6px;top:251.8px;width:145.6px;height:106.3px;background:#fff;box-shadow:0 2px 6px rgba(0,0,0,.18),0 0 2px rgba(0,0,0,.12);border-radius:1px"></div>
<div style="position:absolute;left:409.6px;top:251.8px;width:145.6px;height:25.6px;background:#f3f2f1;"></div>
<div style="position:absolute;left:416.4px;top:256.6px;width:57.2px;height:17.4px;background:#cfe4f8;border-radius:8.7px"></div>
<span style="position:absolute;left:422.5px;top:260.68px;font-size:9px;line-height:10.8px;font-weight:400;color:#2b6cb0;white-space:pre;transform-origin:0 50%;transform:scaleX(0.9682)">In progress</span>
<div style="position:absolute;left:416.4px;top:282.8px;width:45.1px;height:17.4px;background:#fde7ac;border-radius:8.7px"></div>
<span style="position:absolute;left:422.5px;top:286.88px;font-size:9px;line-height:10.8px;font-weight:400;color:#9a6a14;white-space:pre;transform-origin:0 50%;transform:scaleX(0.9958)">On hold</span>
<div style="position:absolute;left:416.4px;top:309px;width:52.3px;height:17.4px;background:#caf0cc;border-radius:8.7px"></div>
<span style="position:absolute;left:422.5px;top:313.08px;font-size:9px;line-height:10.8px;font-weight:400;color:#4f8a2f;white-space:pre;transform-origin:0 50%;transform:scaleX(0.9862)">Complete</span>
<div style="position:absolute;left:416.4px;top:335.2px;width:44.9px;height:17.4px;background:#f8c8ce;border-radius:8.7px"></div>
<span style="position:absolute;left:422.5px;top:339.28px;font-size:9px;line-height:10.8px;font-weight:400;color:#b23a4c;white-space:pre;transform-origin:0 50%;transform:scaleX(0.9678)">Blocked</span>
</body></html>
